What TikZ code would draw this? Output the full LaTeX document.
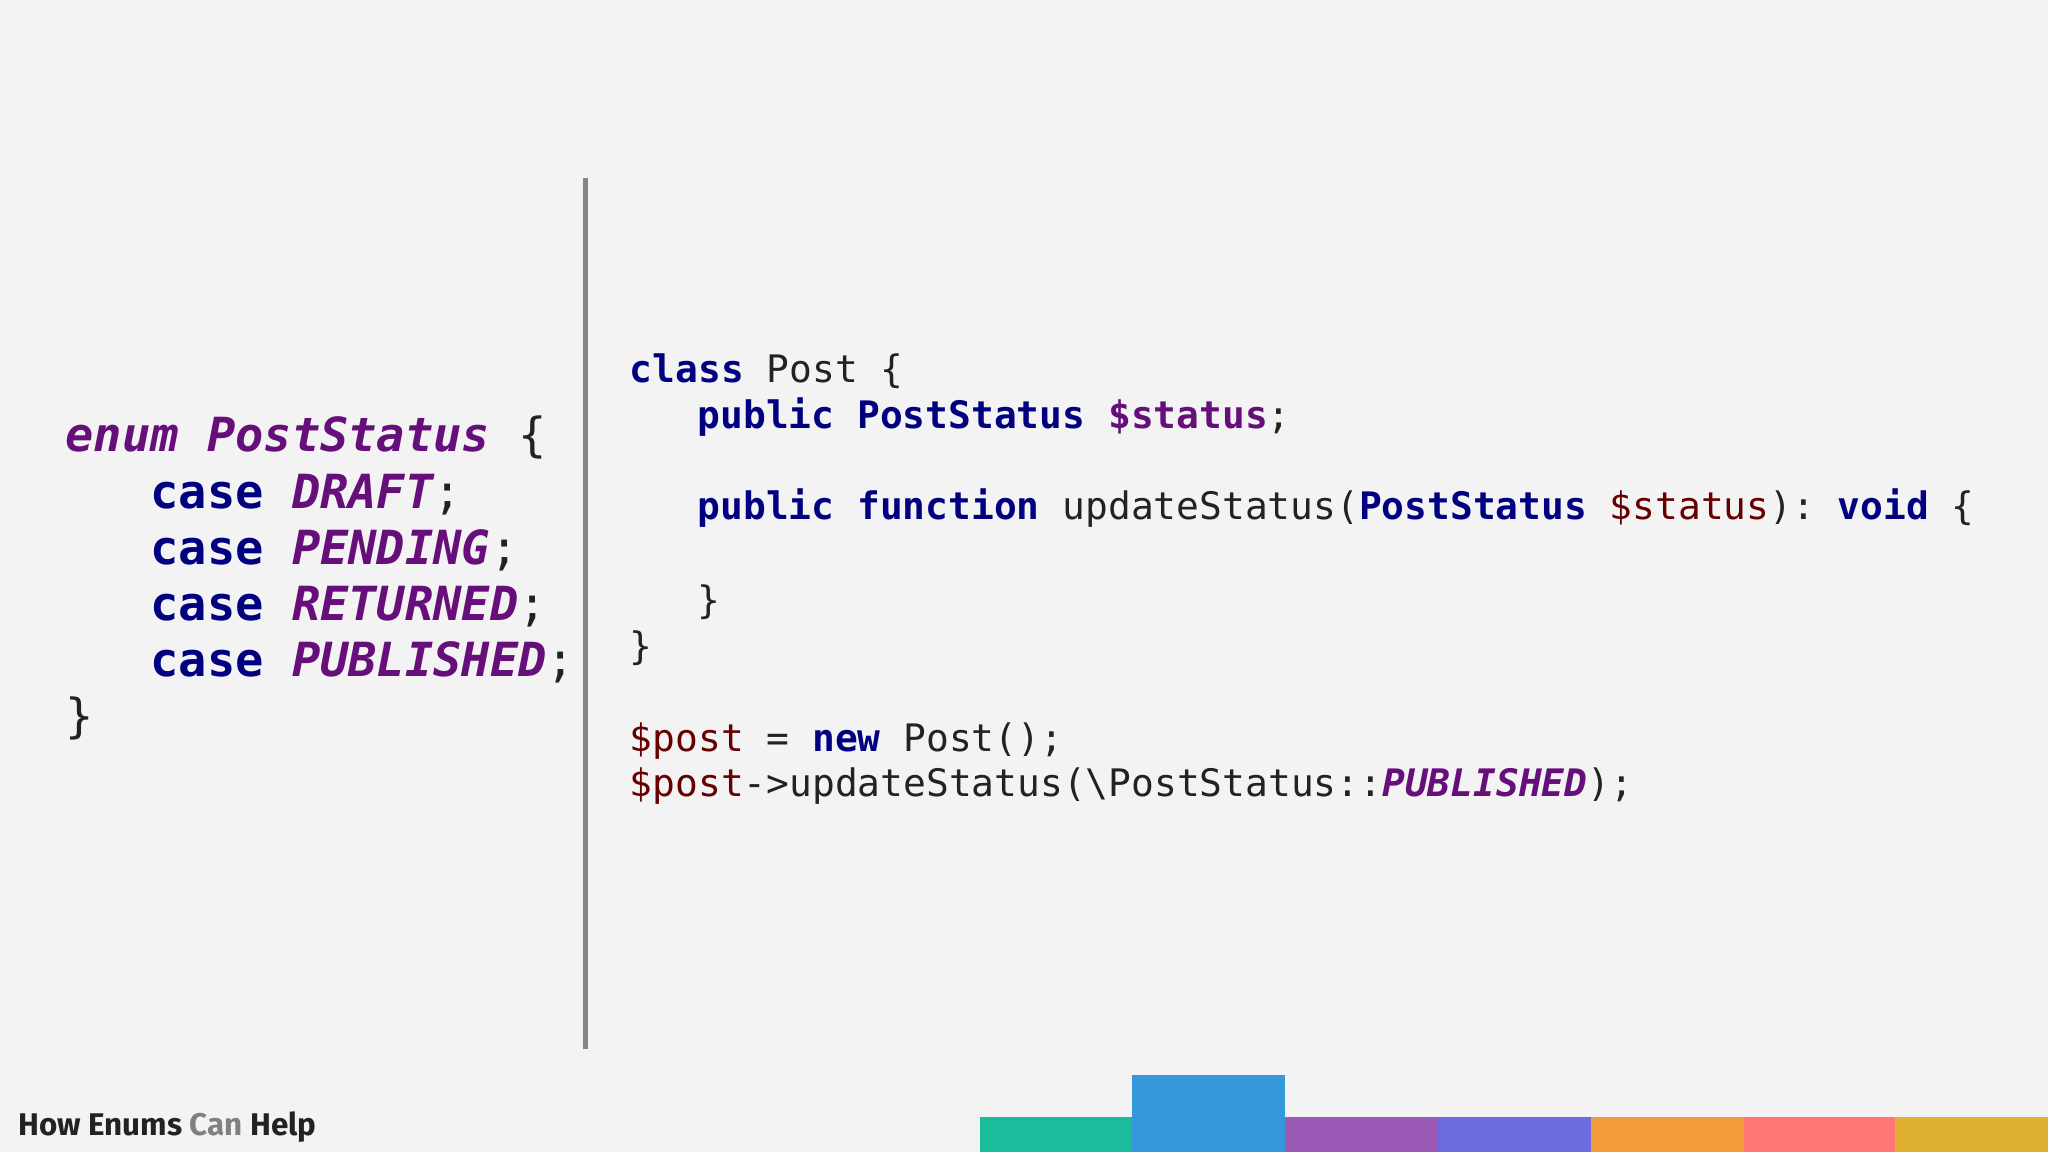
\documentclass[tikz,border=0pt]{standalone}
\usepackage{fontspec}
\setmonofont{DejaVu Sans Mono}
\setsansfont{Fira Sans}
\definecolor{bg}{HTML}{F3F3F4}
\definecolor{kw}{HTML}{000080}
\definecolor{en}{HTML}{660E7A}
\definecolor{vr}{HTML}{660000}
\definecolor{tx}{HTML}{222222}
\newcommand{\cK}[1]{\textcolor{kw}{\bfseries #1}}
\newcommand{\cE}[1]{\textcolor{en}{\bfseries\itshape #1}}
\newcommand{\cP}[1]{\textcolor{en}{\bfseries #1}}
\newcommand{\cV}[1]{\textcolor{vr}{#1}}
\begin{document}
\begin{tikzpicture}[x=1pt,y=-1pt,
  L/.style={anchor=base west,inner sep=0pt,font=\fontsize{36}{36}\selectfont\ttfamily,text=tx},
  R/.style={anchor=base west,inner sep=0pt,font=\fontsize{29}{29}\selectfont\ttfamily,text=tx}]
\fill[bg] (0,0) rectangle (1568,882);
\useasboundingbox (0,0) rectangle (1568,882);
\draw[line width=4pt,color=gray!95] (448,136) -- (448,803);
\node[L] (l1) at (50,346) {\cE{enum PostStatus} \{};
\node[L] (l2) at (115,389) {\cK{case} \cE{DRAFT};};
\node[L] (l3) at (115,432) {\cK{case} \cE{PENDING};};
\node[L] (l4) at (115,475) {\cK{case} \cE{RETURNED};};
\node[L] (l5) at (115,518) {\cK{case} \cE{PUBLISHED};};
\node[L] (l6) at (50,561) {\}};
\node[R] (r1) at (482,293) {\cK{class} Post \{};
\node[R] (r2) at (534,328) {\cK{public} \cK{PostStatus} \cP{\$status};};
\node[R] (r3) at (534,398) {\cK{public} \cK{function} updateStatus(\cK{PostStatus} \cV{\$status}): \cK{void} \{};
\node[R] (r4) at (534,470) {\}};
\node[R] (r5) at (482,505) {\}};
\node[R] (r6) at (482,575) {\cV{\$post} = \cK{new} Post();};
\node[R] (r7) at (482,610) {\cV{\$post}->updateStatus(\textbackslash PostStatus::\cE{PUBLISHED});};
\node[anchor=base west,inner sep=0pt,font=\fontsize{24}{24}\selectfont\sffamily\bfseries,text=tx] (t) at (14,869) {How Enums \textcolor{gray}{Can} Help};
\definecolor{b1}{HTML}{1ABC9C}\definecolor{b2}{HTML}{3498DB}\definecolor{b3}{HTML}{9B59B6}
\definecolor{b4}{HTML}{6C6CE0}\definecolor{b5}{HTML}{F39C3A}\definecolor{b6}{HTML}{FF7675}\definecolor{b7}{HTML}{E0B030}
\fill[b1] (750,855) rectangle (867,882);
\fill[b2] (867,823) rectangle (984,882);
\fill[b3] (984,855) rectangle (1101,882);
\fill[b4] (1101,855) rectangle (1218,882);
\fill[b5] (1218,855) rectangle (1335,882);
\fill[b6] (1335,855) rectangle (1451,882);
\fill[b7] (1451,855) rectangle (1568,882);
\end{tikzpicture}
\end{document}
